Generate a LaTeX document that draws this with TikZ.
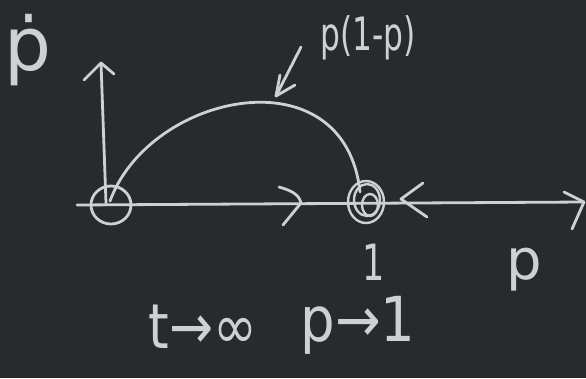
\documentclass[tikz,border=0pt]{standalone}
\usepackage{fontspec}
\setmainfont{DejaVu Sans}
\definecolor{board}{RGB}{40,42,44}
\definecolor{chalk}{RGB}{204,210,212}
\tikzset{
  chalkline/.style={draw=chalk, line width=2.8pt, line cap=round, line join=round},
  chalktext/.style={text=chalk, inner sep=0pt, anchor=base},
}
\newcommand{\chalkfont}[1]{\fontsize{#1}{#1}\selectfont}
\begin{document}
\begin{tikzpicture}[x=1pt,y=-1pt]
\fill[board] (0,0) rectangle (586,378);
\useasboundingbox (0,0) rectangle (586,378);

% coordinates
\coordinate (orig) at (106,203);
\coordinate (ytip) at (101,63);
\coordinate (xstart) at (77,205);
\coordinate (xtip) at (584,202);
\coordinate (fix) at (366,202);

% axes
\path[chalkline] (orig) -- (ytip);
\path[chalkline] (ytip) ++(-17,17) -- (ytip) -- ++(13,11);
\path[chalkline] (xstart) -- (xtip);
\path[chalkline] (xtip) ++(-20,-10) -- (xtip) -- ++(-12,27);

% flow arrows
\coordinate (flowR) at (301,203);
\path[chalkline] (flowR) ++(-22,-16) .. controls +(14,4) and +(-2,-8) .. (flowR) -- ++(-18,22);
\coordinate (flowL) at (401,199);
\path[chalkline] (flowL) ++(22,-16) -- (flowL) -- ++(26,18);

% fixed points
\path[chalkline] (111,205) ellipse [x radius=20, y radius=19];
\path[chalkline, line width=2.4pt] (fix) ellipse [x radius=18, y radius=21];
\path[chalkline, line width=2.4pt] (367,200) ellipse [x radius=13, y radius=16];
\path[chalkline, line width=2.4pt] (370,205) ellipse [x radius=8, y radius=11];

% curve p(1-p)
\coordinate (cstart) at (110,201);
\coordinate (cend) at (360,192);
\path[chalkline] (cstart) .. controls (150,92) and (345,52) .. (cend);

% pointer arrow
\coordinate (ptail) at (301,47);
\coordinate (phead) at (276,96);
\path[chalkline] (ptail) -- (phead);
\path[chalkline] (phead) ++(4,-21) -- (phead) -- ++(19,-11);

% labels
\node[chalktext] (pdot) at (28,70) {\chalkfont{74}ṗ};
\node[chalktext] (func) at (368,50) {\chalkfont{46}\scalebox{0.68}[1]{p(1-p)}};
\node[chalktext] (one) at (374,280) {\chalkfont{50}\scalebox{0.7}[1]{1}};
\node[chalktext] (paxis) at (524,279) {\chalkfont{56}p};
\node[chalktext] (tinf) at (203,348) {\chalkfont{62}\scalebox{0.85}[1]{t→∞}};
\node[chalktext] (plim) at (358,341) {\chalkfont{62}\scalebox{0.88}[1]{p→1}};
\end{tikzpicture}
\end{document}
